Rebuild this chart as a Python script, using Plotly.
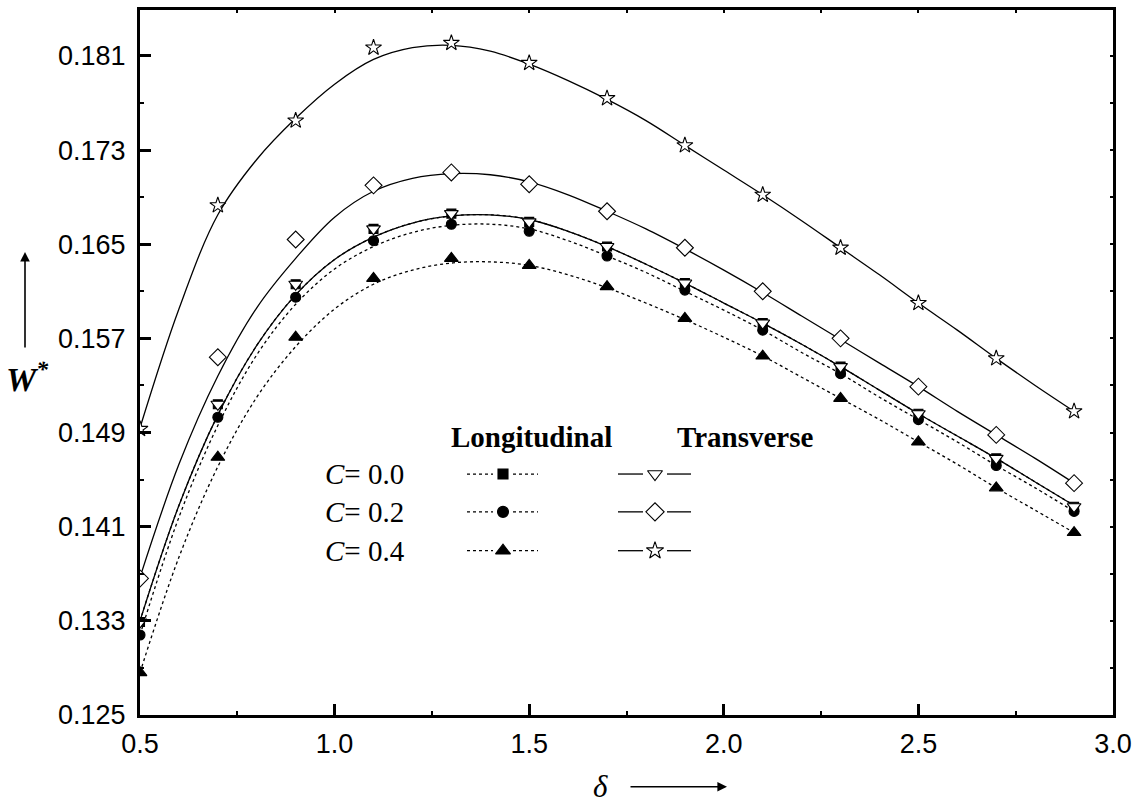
import plotly.graph_objects as go

# ---------------- data ----------------
x_pts = [0.5, 0.7, 0.9, 1.1, 1.3, 1.5, 1.7, 1.9, 2.1, 2.3, 2.5, 2.7, 2.9]

# Longitudinal (filled markers)
long_c00 = [0.1329, 0.1514, 0.1616, 0.1663, 0.1676, 0.1669, 0.1648, 0.1617, 0.1583, 0.1546, 0.1506, 0.1468, 0.1427]
long_c02 = [0.1318, 0.1503, 0.1605, 0.1653, 0.1667, 0.1661, 0.1640, 0.1611, 0.1577, 0.1540, 0.1501, 0.1462, 0.1423]
long_c04 = [0.1286, 0.1469, 0.1571, 0.1621, 0.1638, 0.1632, 0.1614, 0.1587, 0.1555, 0.1519, 0.1482, 0.1443, 0.1405]
# Transverse (open markers)
tran_c00 = [0.1329, 0.1514, 0.1616, 0.1663, 0.1676, 0.1669, 0.1648, 0.1617, 0.1583, 0.1546, 0.1506, 0.1468, 0.1427]
tran_c02 = [0.1366, 0.1554, 0.1654, 0.1700, 0.1711, 0.1701, 0.1678, 0.1647, 0.1610, 0.1570, 0.1529, 0.1488, 0.1447]
tran_c04 = [0.1493, 0.1683, 0.1755, 0.1817, 0.1821, 0.1804, 0.1774, 0.1734, 0.1692, 0.1647, 0.1600, 0.1553, 0.1508]

# fitted curves
x_fit = [0.5, 0.6, 0.7, 0.8, 0.9, 1.0, 1.1, 1.2, 1.3, 1.4, 1.5, 1.6, 1.7, 1.8, 1.9,
         2.0, 2.1, 2.2, 2.3, 2.4, 2.5, 2.6, 2.7, 2.8, 2.9]
fit_long_c00 = [0.1330, 0.1428, 0.1505, 0.1564, 0.1607, 0.1637, 0.1656, 0.1668, 0.1674, 0.1675, 0.1671, 0.1661, 0.1648,
                0.1633, 0.1617, 0.1600, 0.1583, 0.1565, 0.1546, 0.1526, 0.1506, 0.1487, 0.1468, 0.1448, 0.1428]
fit_long_c02 = [0.1318, 0.1418, 0.1496, 0.1556, 0.1599, 0.1629, 0.1648, 0.1660, 0.1666, 0.1667, 0.1663, 0.1653, 0.1640,
                0.1626, 0.1610, 0.1594, 0.1577, 0.1558, 0.1540, 0.1520, 0.1501, 0.1482, 0.1462, 0.1443, 0.1423]
fit_long_c04 = [0.1286, 0.1384, 0.1461, 0.1520, 0.1563, 0.1595, 0.1616, 0.1628, 0.1634, 0.1635, 0.1632, 0.1624, 0.1613,
                0.1600, 0.1586, 0.1571, 0.1555, 0.1537, 0.1519, 0.1501, 0.1482, 0.1463, 0.1443, 0.1424, 0.1405]
fit_tran_c00 = [0.1330, 0.1428, 0.1505, 0.1564, 0.1607, 0.1637, 0.1656, 0.1668, 0.1674, 0.1675, 0.1671, 0.1661, 0.1648,
                0.1633, 0.1617, 0.1600, 0.1583, 0.1565, 0.1546, 0.1526, 0.1506, 0.1487, 0.1468, 0.1448, 0.1428]
fit_tran_c02 = [0.1367, 0.1463, 0.1538, 0.1596, 0.1638, 0.1673, 0.1695, 0.1706, 0.1710, 0.1709, 0.1703, 0.1692, 0.1678,
                0.1663, 0.1646, 0.1628, 0.1609, 0.1589, 0.1569, 0.1549, 0.1529, 0.1508, 0.1488, 0.1468, 0.1447]
fit_tran_c04 = [0.1494, 0.1595, 0.1675, 0.1722, 0.1757, 0.1786, 0.1807, 0.1817, 0.1819, 0.1814, 0.1803, 0.1789, 0.1773,
                0.1755, 0.1734, 0.1713, 0.1692, 0.1670, 0.1647, 0.1624, 0.1600, 0.1577, 0.1553, 0.1530, 0.1508]

x_ticks = [0.5, 1.0, 1.5, 2.0, 2.5, 3.0]
y_ticks = [0.125, 0.133, 0.141, 0.149, 0.157, 0.165, 0.173, 0.181]

row_labels = ["C= 0.0", "C= 0.2", "C= 0.4"]

# ---------------- figure ----------------
W, H = 1147, 805
L, R, T, B = 140, 34, 7, 90
PW, PH = W - L - R, H - T - B

def fx(px):
    return (px - L) / PW

def fy(py):
    return (H - B - py) / PH

fig = go.Figure()

line_w = 1.3
# fitted curves
for yv in [fit_long_c00, fit_long_c02, fit_long_c04]:
    fig.add_trace(go.Scatter(x=x_fit, y=yv, mode="lines", line=dict(color="black", width=line_w, dash="dot", shape="spline"),
                             showlegend=False, hoverinfo="skip"))
for yv in [fit_tran_c00, fit_tran_c02, fit_tran_c04]:
    fig.add_trace(go.Scatter(x=x_fit, y=yv, mode="lines", line=dict(color="black", width=line_w, shape="spline"),
                             showlegend=False, hoverinfo="skip"))

# markers
mk = [
    (long_c00, "square", 9, "black"),
    (long_c02, "circle", 10, "black"),
    (long_c04, "triangle-up", 12, "black"),
    (tran_c00, "triangle-down", 12, "white"),
    (tran_c02, "diamond", 13, "white"),
    (tran_c04, "star", 12, "white"),
]
for yv, sym, sz, col in mk:
    fig.add_trace(go.Scatter(x=x_pts, y=yv, mode="markers",
                             marker=dict(symbol=sym, size=sz, color=col, line=dict(color="black", width=1.1)),
                             showlegend=False))

# legend samples on an overlay axis spanning the plot area (0..1)
leg_rows_py = [473, 511, 550]
lx = [fx(467), fx(493), None, fx(513), fx(538)]
tx = [fx(618), fx(643), None, fx(667), fx(691)]
for i, py in enumerate(leg_rows_py):
    yy = fy(py)
    fig.add_trace(go.Scatter(x=lx, y=[yy, yy, None, yy, yy], mode="lines", xaxis="x2", yaxis="y2",
                             line=dict(color="black", width=line_w, dash="dot"), showlegend=False, hoverinfo="skip"))
    fig.add_trace(go.Scatter(x=tx, y=[yy, yy, None, yy, yy], mode="lines", xaxis="x2", yaxis="y2",
                             line=dict(color="black", width=line_w), showlegend=False, hoverinfo="skip"))
    _, sym, sz, col = mk[i]
    fig.add_trace(go.Scatter(x=[fx(503)], y=[yy], mode="markers", xaxis="x2", yaxis="y2",
                             marker=dict(symbol=sym, size=sz + 1, color=col, line=dict(color="black", width=1.1)),
                             showlegend=False, hoverinfo="skip"))
    _, sym, sz, col = mk[i + 3]
    fig.add_trace(go.Scatter(x=[fx(655)], y=[yy], mode="markers", xaxis="x2", yaxis="y2",
                             marker=dict(symbol=sym, size=sz + 1, color=col, line=dict(color="black", width=1.1)),
                             showlegend=False, hoverinfo="skip"))

# invisible trace to carry the top/right tick-only axes
fig.add_trace(go.Scatter(x=[0.5], y=[0.125], mode="markers", xaxis="x3", yaxis="y3",
                         marker=dict(opacity=0), showlegend=False, hoverinfo="skip"))

annotations = []
serif = "Liberation Serif, Times New Roman, serif"
def ann(px, py, text, size, xanchor="center", **kw):
    d = dict(x=fx(px), y=fy(py), xref="paper", yref="paper", text=text, xanchor=xanchor, yanchor="middle",
             showarrow=False, font=dict(family=serif, size=size, color="black"))
    d.update(kw)
    annotations.append(d)

ann(531, 436, "<b>Longitudinal</b>", 29)
ann(745, 436, "<b>Transverse</b>", 29)
for lab, py in zip(row_labels, leg_rows_py):
    ann(323, py, "<i>C</i>" + lab[1:], 29, xanchor="left")

# axis titles
ann(600, 787, "<i>δ</i>", 31)
annotations.append(dict(x=fx(727), y=fy(787), xref="paper", yref="paper", text="", showarrow=True,
                        ax=-98, ay=0, arrowhead=2, arrowsize=1.2, arrowwidth=1.6, arrowcolor="black"))
annotations.append(dict(x=fx(27), y=fy(376), xref="paper", yref="paper", text="W<sup>*</sup>",
                        xanchor="center", yanchor="middle", showarrow=False,
                        font=dict(family=serif, size=34, color="black", weight="bold", style="italic")))
annotations.append(dict(x=fx(25), y=fy(250), xref="paper", yref="paper", text="", showarrow=True,
                        ax=0, ay=97, arrowhead=2, arrowsize=1.2, arrowwidth=1.6, arrowcolor="black"))

tick_font = dict(family="Liberation Sans, Arial, sans-serif", size=27, color="black")
fig.update_layout(
    width=W, height=H,
    margin=dict(l=L, r=R, t=T, b=B),
    paper_bgcolor="white", plot_bgcolor="white",
    showlegend=False,
    annotations=annotations,
    xaxis=dict(range=[0.5, 3.0], tickvals=x_ticks, ticktext=[f"{v:.1f}" for v in x_ticks],
               ticks="inside", ticklen=11, tickwidth=2.5, tickcolor="black",
               minor=dict(dtick=0.25, tick0=0.5, ticks="inside", ticklen=4, tickwidth=2, tickcolor="black"),
               showline=True, linewidth=3, linecolor="black", mirror=True, showgrid=False, zeroline=False,
               tickfont=tick_font, ticklabelstandoff=3),
    yaxis=dict(range=[0.125, 0.1849], tickvals=y_ticks, ticktext=[f"{v:.3f}" for v in y_ticks],
               ticks="inside", ticklen=11, tickwidth=2.5, tickcolor="black",
               minor=dict(dtick=0.004, tick0=0.125, ticks="inside", ticklen=4, tickwidth=2, tickcolor="black"),
               showline=True, linewidth=3, linecolor="black", mirror=True, showgrid=False, zeroline=False,
               tickfont=tick_font, ticklabelstandoff=6),
    xaxis2=dict(range=[0, 1], overlaying="x", visible=False, fixedrange=True),
    yaxis2=dict(range=[0, 1], overlaying="y", visible=False, fixedrange=True),
    xaxis3=dict(range=[0.5, 3.0], overlaying="x", side="top", dtick=0.25, tick0=0.5, ticks="inside",
                ticklen=3, tickwidth=2, tickcolor="black", showticklabels=False, showgrid=False,
                zeroline=False, showline=False),
    yaxis3=dict(range=[0.125, 0.1849], overlaying="y", side="right", dtick=0.004, tick0=0.125, ticks="inside",
                ticklen=3, tickwidth=2, tickcolor="black", showticklabels=False, showgrid=False,
                zeroline=False, showline=False),
)

fig.write_html("out.html")
